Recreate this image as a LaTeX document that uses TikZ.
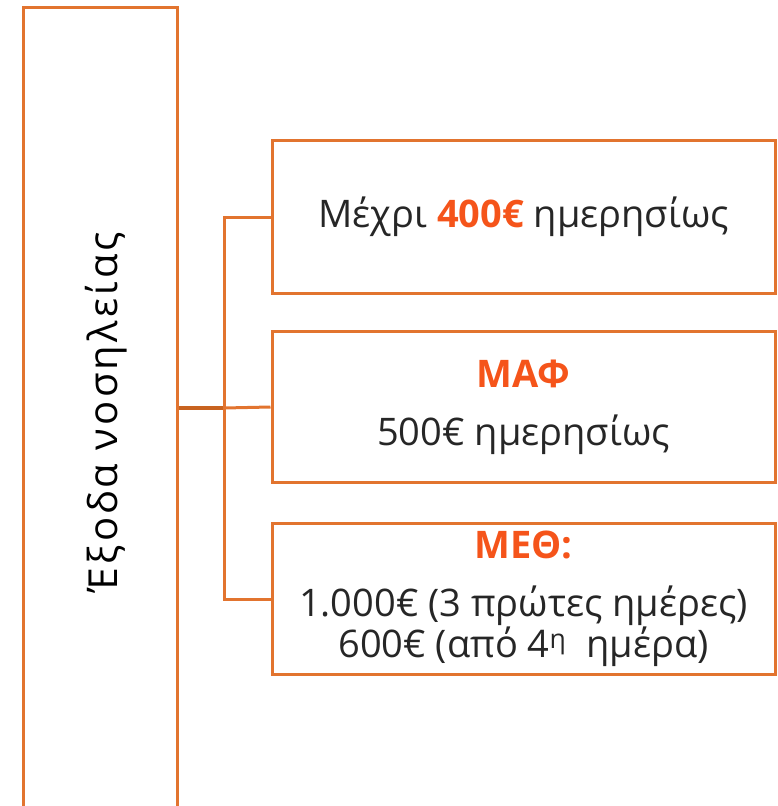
\documentclass[tikz,border=0pt]{standalone}
\usepackage{fontspec}
\setmainfont{Open Sans}
\usetikzlibrary{positioning}
\definecolor{boxorange}{HTML}{E2742F}
\definecolor{linkorange}{HTML}{C8631F}
\definecolor{hiorange}{HTML}{F5541A}
\definecolor{textgrey}{HTML}{262626}

\begin{document}
\begin{tikzpicture}[x=1pt,y=-1pt,
    infobox/.style={draw=boxorange,line width=3pt,minimum width=503pt,minimum height=151pt,
      align=center,text=textgrey,font=\fontsize{38}{38}\selectfont},
    link/.style={draw=boxorange,line width=3pt},
    trunk/.style={draw=linkorange,line width=4pt}]
    \useasboundingbox (0,0) rectangle (777,806);

    \node[draw=boxorange,line width=3pt,minimum width=154pt,minimum height=830pt,anchor=north west] (stay) at (22,6) {};
    \node[rotate=90,text=black,font=\fontsize{40}{40}\selectfont\addfontfeature{LetterSpace=8}] (staylabel) at (106,412) {Έξοδα νοσηλείας};

    \node[infobox,minimum height=153pt] (daily) at (523.5,217) {Μέχρι \textbf{\color{hiorange}400€} ημερησίως};
    \node[infobox,below=35pt of daily] (maf) {\textbf{\color{hiorange}ΜΑΦ}\\[20pt]500€ ημερησίως};
    \node[infobox,below=38pt of maf] (meth) {\textbf{\color{hiorange}ΜΕΘ:}\\[20pt]1.000€ (3 πρώτες ημέρες)\\600€ (από 4\textsuperscript{η}~ ημέρα)};

    \coordinate (fork) at (224,408);
    \draw[trunk] (stay.east |- fork) -- (fork);
    \draw[link] (daily.west) -| (fork) |- (meth.west);
    \draw[link] (fork) -- (maf.west);
\end{tikzpicture}
\end{document}
